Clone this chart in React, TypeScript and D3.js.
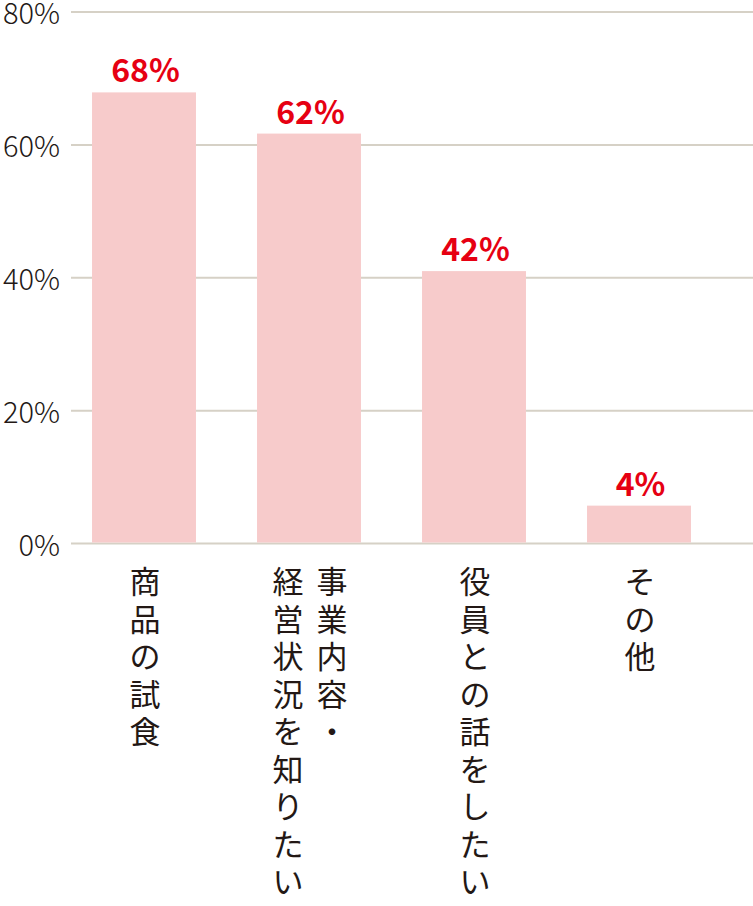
import React, { useEffect } from "react";
import * as d3 from "d3";

const categories = ["商品の試食", "事業内容・経営状況を知りたい", "役員との話をしたい", "その他"];
const categoryLines: string[][] = [["商品の試食"], ["事業内容・", "経営状況を知りたい"], ["役員との話をしたい"], ["その他"]];
const barValues = [67.9, 61.7, 41.0, 5.7];
const valueLabels = ["68%", "62%", "42%", "4%"];
const yTicks = [0, 20, 40, 60, 80];

const W = 753;
const H = 906;
const FONT = "'Noto Sans CJK JP', 'Noto Sans', sans-serif";

export default function App() {
  useEffect(() => {
    document.body.style.margin = "0";
  }, []);

  const y = d3.scaleLinear().domain([0, 80]).range([543.5, 12]);
  const x = d3.scaleBand<string>().domain(categories).range([61.5, 721.5]).paddingInner(0.37).paddingOuter(0.185);
  const bw = x.bandwidth();
  const pitch = 37.5;
  const colGap = 44;

  return (
    <svg width={W} height={H} style={{ display: "block", background: "#fff" }} fontFamily={FONT}>
      {yTicks.map((t) => (
        <g key={t}>
          <line x1={71} x2={W} y1={y(t)} y2={y(t)} stroke="#d6d1c6" strokeWidth={2} />
          <text x={60} y={y(t) + 12} textAnchor="end" fontSize={29} fill="#231815" fontWeight={300}>
            {t}%
          </text>
        </g>
      ))}
      {categories.map((c, i) => {
        const cx = (x(c) as number) + bw / 2;
        const lines = categoryLines[i];
        const n = lines.length;
        return (
          <g key={c}>
            <rect x={x(c)} y={y(barValues[i])} width={bw} height={y(0) - y(barValues[i]) - 1} fill="#f7cbcb" />
            <text x={cx + 1.5} y={y(barValues[i]) - 10} textAnchor="middle" fontSize={32} fontWeight={700} fill="#e60012">
              {valueLabels[i]}
            </text>
            {lines.map((ln, li) => {
              const colX = cx + 1 + ((n - 1) / 2 - li) * colGap;
              return Array.from(ln).map((ch, k) => (
                <text
                  key={`${li}-${k}`}
                  x={colX}
                  y={582 + k * pitch}
                  dy="0.36em"
                  textAnchor="middle"
                  fontSize={31}
                  fill="#231815"
                >
                  {ch}
                </text>
              ));
            })}
          </g>
        );
      })}
    </svg>
  );
}
